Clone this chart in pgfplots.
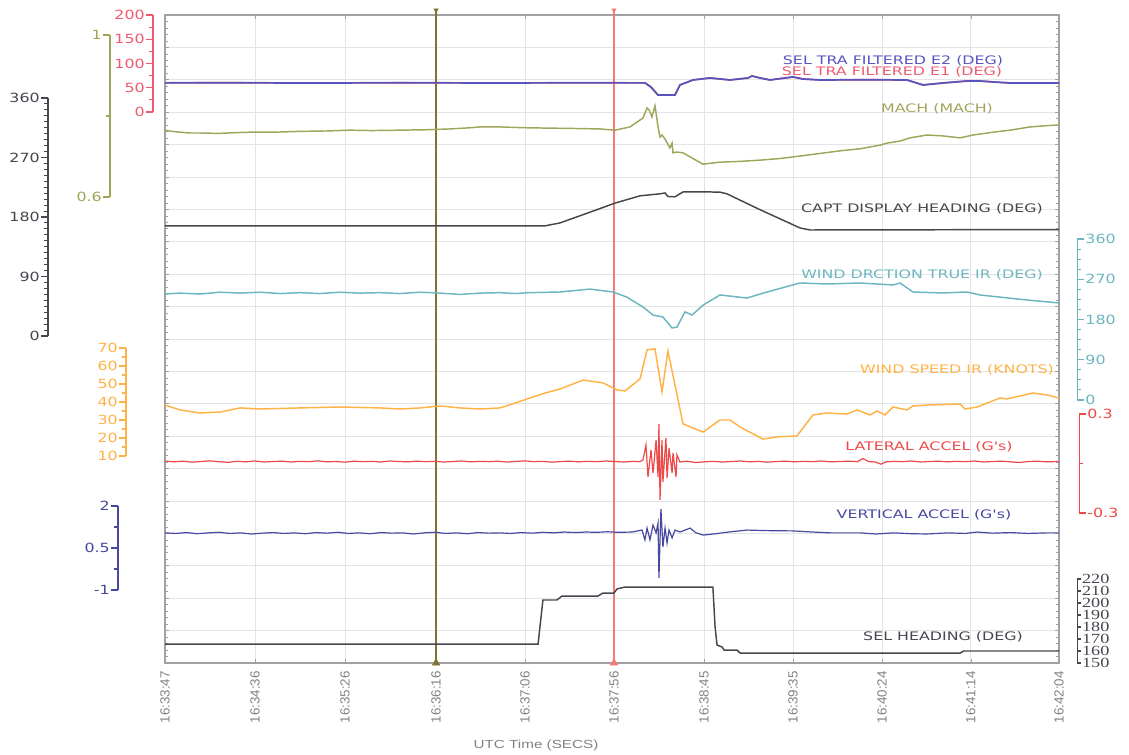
\documentclass[border=0pt]{standalone}
\usepackage{fontspec}
\setmainfont{DejaVu Sans}
\newfontfamily\lblfont[FakeStretch=1.35]{DejaVu Sans}
\newfontfamily\numfont[FakeStretch=1.25]{DejaVu Sans}
\newfontfamily\serfont[FakeStretch=1.3]{Liberation Serif}
\newfontfamily\arifont{Liberation Sans}
\newfontfamily\arifontw[FakeStretch=1.3]{Liberation Sans}
\usepackage{pgfplots}
\pgfplotsset{compat=1.18}

\definecolor{e2blue}{RGB}{88,84,190}
\definecolor{e1red}{RGB}{240,90,110}
\definecolor{machol}{RGB}{160,165,90}
\definecolor{hdgdark}{RGB}{70,70,78}
\definecolor{windcy}{RGB}{108,182,192}
\definecolor{windor}{RGB}{255,178,70}
\definecolor{latred}{RGB}{238,72,72}
\definecolor{vertbl}{RGB}{72,72,160}
\definecolor{curol}{RGB}{128,116,50}
\definecolor{curred}{RGB}{248,120,120}
\definecolor{gridc}{RGB}{228,228,232}
\definecolor{framec}{RGB}{160,160,165}
\definecolor{ticklab}{RGB}{130,130,130}

\pgfplotsset{
  trace/.style={at={(123.75pt,69pt)}, anchor=south west, scale only axis,
    width=670.5pt, height=486pt, xmin=0, xmax=497, hide axis},
  scalebar/.style={scale only axis, width=0.1pt, height=#1, anchor=south west,
    hide x axis, xmin=0, xmax=1, tick align=outside,
    major tick length=5pt, minor tick length=3pt,
    yticklabel style={font=\numfont\fontsize{9.5}{10}\selectfont, inner sep=1pt}},
  scol/.style={y axis line style={#1, line width=0.9pt}, tick style={#1, line width=0.8pt},
    yticklabel style={text=#1}},
}

\begin{document}
\begin{tikzpicture}
\useasboundingbox (0,0) rectangle (846.75pt,566.25pt);

% frame, grid, time axis, cursors
\begin{axis}[
  at={(123.75pt,69pt)}, anchor=south west, scale only axis,
  width=670.5pt, height=486pt,
  xmin=0, xmax=497, ymin=0, ymax=20,
  xtick={0,50,100.1,150.7,200.1,249.6,299.6,349.1,398.6,448,497},
  xticklabels={16:33:47,16:34:36,16:35:26,16:36:16,16:37:06,16:37:56,16:38:45,16:39:35,16:40:24,16:41:14,16:42:04},
  xticklabel style={yshift=-4pt, rotate=90, anchor=east, font=\arifont\fontsize{10}{12}\selectfont, text=ticklab, inner sep=2pt},
  ytick={0,1,...,20}, yticklabels={},
  minor x tick num=7, minor y tick num=4,
  grid=major, major grid style={gridc, line width=0.6pt},
  tick align=inside, major tick length=3pt, minor tick length=2pt,
  tick style={framec, line width=0.5pt},
  axis line style={framec, line width=1.1pt},
  clip=false,
]
\addplot[curol, line width=1.1pt] coordinates {(150.7,0) (150.7,20.15)};
\addplot[curred, line width=0.8pt] coordinates {(249.6,0) (249.6,20.15)};
\addplot[only marks, mark=triangle*, mark size=3.2pt, curol] coordinates {(150.7,0)};
\addplot[only marks, mark=triangle*, mark size=3.2pt, curred] coordinates {(249.6,0)};
\addplot[only marks, mark=triangle*, mark size=1.8pt, curol, mark options={rotate=180}] coordinates {(150.7,20.15)};
\addplot[only marks, mark=triangle*, mark size=1.8pt, curred, mark options={rotate=180}] coordinates {(249.6,20.15)};
\end{axis}

% SEL TRA FILTERED E1 / E2 (deg)
\begin{axis}[trace, ymin=-1136.1, ymax=200]
\addplot[e1red, line width=1.2pt] coordinates {
(0,60) (30,60.3) (80,59.8) (130,60.2) (180,59.9) (230,60.1) (266.8,60) (270,52) (274.1,35) (283.5,35)
(286.3,55.7) (293.5,66) (303,70.1) (314.1,66) (324.1,70.1) (326.3,74.2) (330.8,70.1) (336.3,66)
(349.1,72.2) (354.7,68) (364.1,66) (390,66.5) (412.5,66) (421.4,55.7) (432.5,59.8) (445.9,63.9)
(453.1,63.9) (460.3,61.9) (469.8,59.8) (497,59.8)};
\addplot[e2blue, line width=1.3pt] coordinates {
(0,60) (30,60.3) (80,59.8) (130,60.2) (180,59.9) (230,60.1) (266.8,60) (270,52) (274.1,35) (283.5,35)
(286.3,55.7) (293.5,66) (303,70.1) (314.1,66) (324.1,70.1) (326.3,74.2) (330.8,70.1) (336.3,66)
(349.1,72.2) (354.7,68) (364.1,66) (390,66.5) (412.5,66) (421.4,55.7) (432.5,59.8) (445.9,63.9)
(453.1,63.9) (460.3,61.9) (469.8,59.8) (497,59.8)};
\end{axis}

% MACH
\begin{axis}[trace, ymin=-0.5506, ymax=1.0494]
\addplot[machol, line width=1.1pt] coordinates {
(0,0.765) (4,0.762) (8.3,0.760) (14,0.758) (19.5,0.758) (30,0.757) (40,0.759) (47.3,0.760) (60,0.760)
(75.1,0.762) (90,0.763) (102.8,0.765) (115,0.764) (130.6,0.765) (145,0.766) (158.4,0.768) (170,0.771)
(175.1,0.773) (186.2,0.773) (200,0.771) (214,0.770) (230,0.769) (241.8,0.768) (250.2,0.765)
(258.5,0.773) (265.7,0.795) (268,0.820) (269.1,0.815) (270.7,0.798) (272.4,0.825) (274.1,0.773)
(275.2,0.748) (276.3,0.753) (278,0.743) (280.7,0.721) (281.9,0.733) (282.4,0.709) (284.6,0.711)
(288,0.709) (291.9,0.699) (299.1,0.681) (308.5,0.686) (320,0.688) (330.8,0.691) (342,0.695)
(353,0.701) (365,0.708) (375.3,0.714) (386.4,0.719) (397.5,0.728) (401.4,0.733) (408.6,0.738)
(414.2,0.746) (423.6,0.753) (432,0.751) (442,0.746) (449.2,0.753) (460.3,0.760) (469.8,0.765)
(480.9,0.773) (490,0.776) (497,0.778)};
\end{axis}

% CAPT DISPLAY HEADING
\begin{axis}[trace, ymin=-494.6, ymax=485.5]
\addplot[hdgdark, line width=1.1pt] coordinates {
(0,166.4) (100,166.4) (211,166.4) (219.6,171) (235,186) (250.2,201) (264.1,212) (275.2,215)
(278,216.3) (279.6,211) (283.5,210.5) (288,217.8) (300,218) (308.5,217.5) (312.4,215) (330,192)
(353,163.4) (358.6,160.3) (420,160.6) (497,161)};
\end{axis}

% WIND DRCTION TRUE IR
\begin{axis}[trace, ymin=-588.1, ymax=860.9]
\addplot[windcy, line width=1.1pt] coordinates {
(0,237) (8.3,239) (19.5,237) (30.6,241) (41.7,239) (52.8,241) (63.9,238) (75.1,240) (86,238)
(97.3,241) (108,239) (119.5,240) (130.6,238) (141.8,241) (152.9,239) (164,236) (175.1,239)
(186.2,240) (194.6,238) (202.9,240) (219.6,241.5) (236.3,248) (249.1,241.5) (256.8,230) (265.7,208)
(271.3,190) (276.8,185.6) (281.9,161) (284.6,163) (289.1,197) (293,190) (299.1,212) (308.5,234.8)
(323.5,228) (334.7,241.5) (353,261.6) (368,259.4) (386.4,261.6) (404.7,257.2) (408.6,261.6)
(415.8,241.5) (432.5,239.3) (445.9,241.5) (453.1,234.8) (479.2,223.6) (497,217)};
\end{axis}

% WIND SPEED IR
\begin{axis}[trace, ymin=-105, ymax=255]
\addplot[windor, line width=1.1pt] coordinates {
(0,38.3) (8.3,35.6) (19.5,33.9) (30.6,34.4) (41.7,36.7) (52.8,36.1) (63.9,36.4) (75.1,36.7)
(97.3,37.2) (119.5,36.7) (130.6,36.1) (141.8,36.7) (152.9,37.8) (164,36.7) (175.1,36.1) (186.2,36.7)
(194.6,39.4) (202.9,42.2) (211.3,45) (219.6,47.2) (232.4,52.2) (243.5,50.6) (251.3,46.7) (255.7,46.1)
(264.1,52.8) (268,69) (272.4,69.5) (276.3,45.6) (279.6,68.3) (288,27.8) (299.1,23.3) (308.5,30)
(314.1,30) (319.7,26.1) (332.4,19.4) (340.2,20.6) (351.3,21.1) (360.2,32.8) (368,33.9) (379.1,33.3)
(384.7,35.6) (391.9,32.8) (395.8,35) (400.3,32.8) (404.7,37.2) (412.5,35.6) (415.8,37.8) (423.6,38.3)
(442,38.9) (444.7,36.1) (451.4,37.2) (464.2,42.2) (468.1,41.7) (482.5,45) (490.3,43.9) (497,42.2)};
\end{axis}

% LATERAL ACCEL
\begin{axis}[trace, ymin=-1.209, ymax=2.718]
\addplot[latred, line width=0.9pt] coordinates {
(0,0.015) (5,0.010) (10,0.014) (15,0.008) (20,0.012) (25,0.016) (30,0.011) (35,0.007) (40,0.013)
(45,0.010) (50,0.015) (55,0.009) (60,0.012) (65,0.014) (70,0.009) (75,0.013) (80,0.011) (85,0.016)
(90,0.010) (95,0.012) (100,0.008) (105,0.014) (110,0.011) (115,0.013) (120,0.009) (125,0.015)
(130,0.012) (135,0.010) (140,0.014) (145,0.011) (150,0.013) (155,0.009) (160,0.012) (165,0.015)
(170,0.010) (175,0.013) (180,0.011) (185,0.014) (190,0.009) (195,0.012) (200,0.016) (205,0.011)
(210,0.013) (215,0.008) (220,0.012) (225,0.014) (230,0.010) (235,0.013) (240,0.011) (245,0.015)
(250,0.012) (255,0.009) (260,0.013) (264,0.011) (265.7,0.02) (267.4,0.112) (268.5,-0.082)
(270.2,0.082) (271.3,-0.058) (273.0,0.142) (274.1,-0.082) (274.6,0.239) (275.2,-0.221) (276.3,0.142)
(276.8,-0.112) (278.5,0.155) (279.1,-0.088) (280.2,0.094) (281.9,-0.058) (282.4,0.064) (284.1,-0.082)
(284.6,0.052) (286.3,0.009) (290,0.014) (295,0.006) (300,0.010) (305,0.013) (310,0.009) (315,0.012)
(320,0.015) (325,0.010) (330,0.013) (335,0.008) (340,0.012) (345,0.014) (350,0.010) (355,0.013)
(360,0.011) (365,0.015) (370,0.010) (375,0.012) (380,0.014) (385,0.011) (388,0.030) (391,0.012)
(395,0.009) (398,-0.004) (401,0.010) (405,0.013) (410,0.011) (415,0.015) (420,0.009) (425,0.012)
(430,0.014) (435,0.010) (440,0.013) (445,0.011) (450,0.015) (455,0.009) (460,0.012) (465,0.014)
(470,0.010) (475,0.006) (480,0.012) (485,0.014) (490,0.010) (497,0.012)};
\end{axis}

% VERTICAL ACCEL
\begin{axis}[trace, ymin=-3.607, ymax=19.536]
\addplot[vertbl, line width=0.9pt] coordinates {
(0,1.04) (6,1.02) (12,1.05) (18,1.01) (24,1.04) (30,1.06) (36,1.02) (42,1.04) (48,1.00) (54,1.03)
(60,1.05) (66,1.02) (72,1.04) (78,1.01) (84,1.05) (90,1.03) (96,1.06) (102,1.02) (108,1.04)
(114,1.01) (120,1.05) (126,1.03) (132,1.04) (138,1.00) (144,1.04) (150,1.06) (156,1.02) (162,1.04)
(168,1.01) (174,1.05) (180,1.03) (186,1.04) (192,1.02) (198,1.05) (204,1.03) (210,1.06) (216,1.04)
(222,1.07) (228,1.05) (234,1.07) (240,1.06) (246,1.08) (252,1.06) (259.6,1.07) (265.2,1.14)
(266.8,0.79) (268,1.21) (269.6,0.79) (271.3,1.32) (273,1.04) (274.1,1.39) (274.6,-0.57) (275.7,1.89)
(276.8,0.54) (278,1.21) (279.1,0.68) (280.2,1.14) (281.9,0.86) (283.5,1.14) (286.3,1.07) (291.9,1.21)
(295,1.05) (299.1,0.96) (305,1.00) (312,1.06) (323.5,1.14) (335,1.12) (349.1,1.11) (360,1.07)
(370,1.04) (386.4,1.04) (395,1.00) (405,1.04) (415,1.01) (423.6,1.00) (435,1.04) (445,1.02)
(451.4,1.07) (460,1.03) (470,1.05) (480,1.02) (490,1.04) (497,1.04)};
\end{axis}

% SEL HEADING
\begin{axis}[trace, ymin=150, ymax=690]
\addplot[hdgdark, line width=1.1pt] coordinates {
(0,165.8) (207.4,165.8) (210.1,202.5) (217.9,202.5) (220.7,205.8) (240.7,205.8) (243.5,208.3)
(249.6,208.3) (251.3,211.7) (255.7,213.3) (304.6,213.3) (305.8,180) (306.9,165) (309.7,163.3)
(310.8,160.8) (318,160.8) (319.7,158.3) (442,158.3) (444,160) (497,160)};
\end{axis}

% scale bars, left
\begin{axis}[scalebar=72.75pt, at={(114.75pt,482.25pt)}, axis y line*=left, scol=e1red,
  ymin=0, ymax=200, ytick={0,50,100,150,200}, yticklabels={0,50,100,150,200}, minor y tick num=1]
\end{axis}
\begin{axis}[scalebar=121.5pt, at={(82.5pt,418.5pt)}, axis y line*=left, scol=machol,
  ymin=0.6, ymax=1, ytick={0.6,1}, yticklabels={0.6,1}, minor ytick={0.8}]
\end{axis}
\begin{axis}[scalebar=178.5pt, at={(36pt,314.25pt)}, axis y line*=left, scol=hdgdark,
  ymin=0, ymax=360, ytick={0,90,180,270,360}, yticklabels={0,90,180,270,360}, minor y tick num=9]
\end{axis}
\begin{axis}[scalebar=81pt, at={(94.5pt,224.25pt)}, axis y line*=left, scol=windor,
  ymin=10, ymax=70, ytick={10,20,...,70}, yticklabels={10,20,30,40,50,60,70}, minor y tick num=1]
\end{axis}
\begin{axis}[scalebar=63pt, at={(88.5pt,123.75pt)}, axis y line*=left, scol=vertbl,
  ymin=-1, ymax=2, ytick={-1,0.5,2}, yticklabels={-1,0.5,2}, minor y tick num=1]
\end{axis}

% scale bars, right
\begin{axis}[scalebar=120.75pt, at={(807.75pt,266.25pt)}, axis y line*=right, scol=windcy,
  ymin=0, ymax=360, ytick={0,90,180,270,360}, yticklabels={0,90,180,270,360}, minor y tick num=3]
\end{axis}
\begin{axis}[scalebar=74.25pt, at={(809.25pt,181.5pt)}, axis y line*=right, scol=latred,
  ymin=-0.3, ymax=0.3, ytick={-0.3,0.3}, yticklabels={-0.3,0.3}, minor ytick={0}]
\end{axis}
\begin{axis}[scalebar=63pt, at={(807.75pt,69pt)}, axis y line*=right, scol=hdgdark,
  ymin=150, ymax=220, ytick={150,160,...,220}, yticklabels={150,160,170,180,190,200,210,220},
  major tick length=3pt,
  yticklabel style={font=\serfont\fontsize{10.5}{10}\selectfont, inner sep=0.5pt}]
\end{axis}

% series names
\begin{scope}[shift={(0pt,566.25pt)}, x=0.75pt, y=-0.75pt,
  every node/.style={font=\lblfont\fontsize{8.8}{10}\selectfont, inner sep=0pt}]
\node[text=e2blue] at (893,61) {SEL TRA FILTERED E2 (DEG)};
\node[text=e1red] at (892,72) {SEL TRA FILTERED E1 (DEG)};
\node[text=machol] at (937,109) {MACH (MACH)};
\node[text=hdgdark] at (922,209) {CAPT DISPLAY HEADING (DEG)};
\node[text=windcy] at (922,275) {WIND DRCTION TRUE IR (DEG)};
\node[text=windor] at (957,370) {WIND SPEED IR (KNOTS)};
\node[text=latred] at (929,447) {LATERAL ACCEL (G's)};
\node[text=vertbl] at (924,515) {VERTICAL ACCEL (G's)};
\node[text=hdgdark] at (943,637) {SEL HEADING (DEG)};
\node[text=ticklab, font=\arifontw\fontsize{8.8}{10}\selectfont] at (536,745) {UTC Time (SECS)};
\end{scope}
\end{tikzpicture}
\end{document}
